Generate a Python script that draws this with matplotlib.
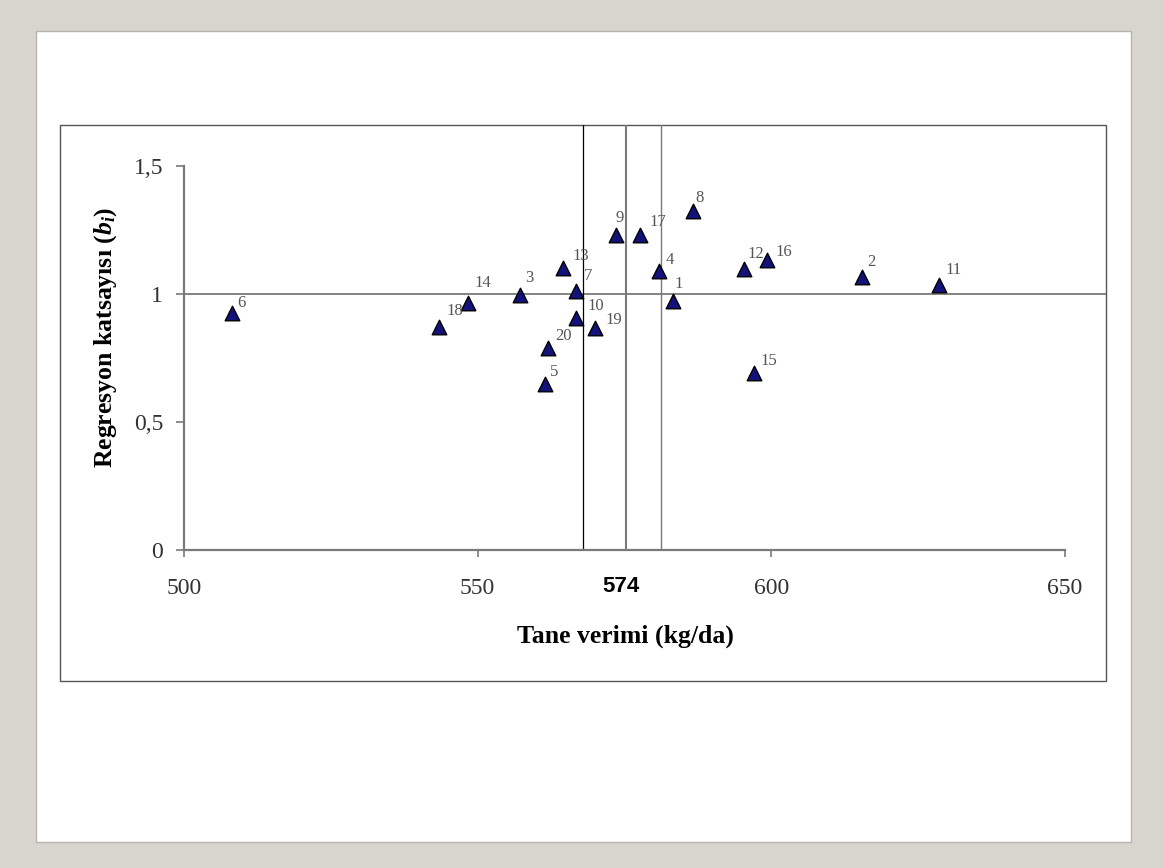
import numpy as np
import matplotlib
matplotlib.use('Agg')
import matplotlib.pyplot as plt
from matplotlib.patches import Rectangle

plt.rcParams['mathtext.fontset'] = 'custom'
plt.rcParams['mathtext.it'] = 'Liberation Serif:italic:bold'
plt.rcParams['mathtext.rm'] = 'Liberation Serif:bold'

#genotype numbers, grain yield (kg/da) and regression coefficient (bi)
genotypes = [1, 2, 3, 4, 5, 6, 7, 8, 9, 10, 11, 12, 13, 14, 15, 16, 17, 18, 19, 20]
yields = [583.3, 615.5, 557.2, 580.9, 561.5, 508.1, 566.7, 586.6, 573.6, 566.7,
          628.6, 595.4, 564.6, 548.4, 597.1, 599.2, 577.6, 543.5, 569.9, 561.9]
bi = [0.974, 1.068, 0.996, 1.091, 0.647, 0.926, 1.013, 1.325, 1.230, 0.907,
      1.035, 1.096, 1.100, 0.964, 0.691, 1.133, 1.230, 0.872, 0.866, 0.790]

#mean yield and the two limit lines, mean of bi
mean_label = '574'
yield_lines = [568.0, 575.3, 581.2]
bi_mean = 1.0

xticks = [500, 550, 600, 650]
yticks = [0, 0.5, 1, 1.5]
ytick_labels = ['0', '0,5', '1', '1,5']

#label offsets in pixels (dx right, dy up) for the point numbers
label_offsets = {1: (1, 9), 2: (5, 7), 3: (5, 9), 4: (6, 3), 5: (5, 4), 6: (6, 2),
                 7: (8, 7), 8: (3, 5), 9: (-1, 9), 10: (12, 4), 11: (6, 7),
                 12: (3, 7), 13: (9, 4), 14: (6, 12), 15: (6, 4), 16: (9, 0),
                 17: (10, 5), 18: (7, 8), 19: (11, 0), 20: (8, 4)}

W, H = 1163, 868
fig = plt.figure(figsize=(W / 100, H / 100), dpi=100)
fig.patch.set_facecolor('#d8d5ce')

def px(x0, y0, x1, y1):
    #pixel box (top-left origin) to figure fraction rectangle
    return (x0 / W, 1 - y1 / H), (x1 - x0) / W, (y1 - y0) / H

(xy, w, h) = px(36, 31, 1131, 842)
fig.patches.append(Rectangle(xy, w, h, transform=fig.transFigure, facecolor='white',
                             edgecolor='#b8b5ae', lw=1.0, zorder=-3))
(xy, w, h) = px(60, 125, 1106, 681)
fig.patches.append(Rectangle(xy, w, h, transform=fig.transFigure, facecolor='white',
                             edgecolor='#555555', lw=1.0, zorder=-2))

ax_l, ax_r, ax_t, ax_b = 184, 1106, 125, 550
ax = fig.add_axes([ax_l / W, 1 - ax_b / H, (ax_r - ax_l) / W, (ax_b - ax_t) / H])
ax.set_facecolor('none')
ax.set_zorder(1)

xscale = (1065 - 184) / 150.0
yscale = 256.0
ax.set_xlim(500, 500 + (ax_r - ax_l) / xscale)
ax.set_ylim(0, (ax_b - ax_t) / yscale)

for s in ['top', 'right']:
    ax.spines[s].set_visible(False)
ax.spines['left'].set_bounds(0, 1.5)
ax.spines['bottom'].set_bounds(500, 650)
for s in ['left', 'bottom']:
    ax.spines[s].set_color('#7a7a7a')
    ax.spines[s].set_linewidth(1.6)

#reference lines
ax.axhline(bi_mean, color='#7a7a7a', lw=1.3, zorder=1)
ax.axvline(yield_lines[0], color='black', lw=0.9, zorder=1)
ax.axvline(yield_lines[1], color='#7a7a7a', lw=1.5, zorder=1)
ax.axvline(yield_lines[2], color='#7a7a7a', lw=1.0, zorder=1)

ax.scatter(yields, bi, marker='^', s=110, facecolor='#12127a', edgecolor='black',
           linewidth=1.0, zorder=3)

for g, xv, yv in zip(genotypes, yields, bi):
    dx, dy = label_offsets[g]
    ax.annotate(str(g), (xv, yv), xytext=(dx * 0.72, dy * 0.72), textcoords='offset points',
                fontsize=12, family='Liberation Serif', color='#555555',
                ha='left', va='bottom', zorder=4)

ax.set_xticks(xticks)
ax.set_xticklabels([str(t) for t in xticks], family='Liberation Serif', fontsize=17,
                   color='#333333')
ax.set_xticks([574.4], minor=True)
ax.set_xticklabels([mean_label], minor=True, family='Liberation Sans', fontsize=16,
                   fontweight='bold', color='black')
ax.set_yticks(yticks)
ax.set_yticklabels(ytick_labels, family='Liberation Serif', fontsize=17, color='#333333')

ax.tick_params(axis='x', which='major', direction='out', length=5, width=1.2,
               color='#7a7a7a', pad=15)
ax.tick_params(axis='x', which='minor', length=0, pad=19)
ax.tick_params(axis='y', direction='out', length=6, width=1.2, color='#7a7a7a', pad=9)

fig.text(625 / W, 1 - 636 / H, 'Tane verimi (kg/da)', ha='center', va='center',
         family='Liberation Serif', fontweight='bold', fontsize=18.5)
fig.text(106 / W, 1 - 337 / H, r'Regresyon katsayısı ($b_i$)', ha='center', va='center',
         rotation=90, family='Liberation Serif', fontweight='bold', fontsize=18.5)

fig.savefig('out.png', dpi=100, facecolor=fig.get_facecolor())
